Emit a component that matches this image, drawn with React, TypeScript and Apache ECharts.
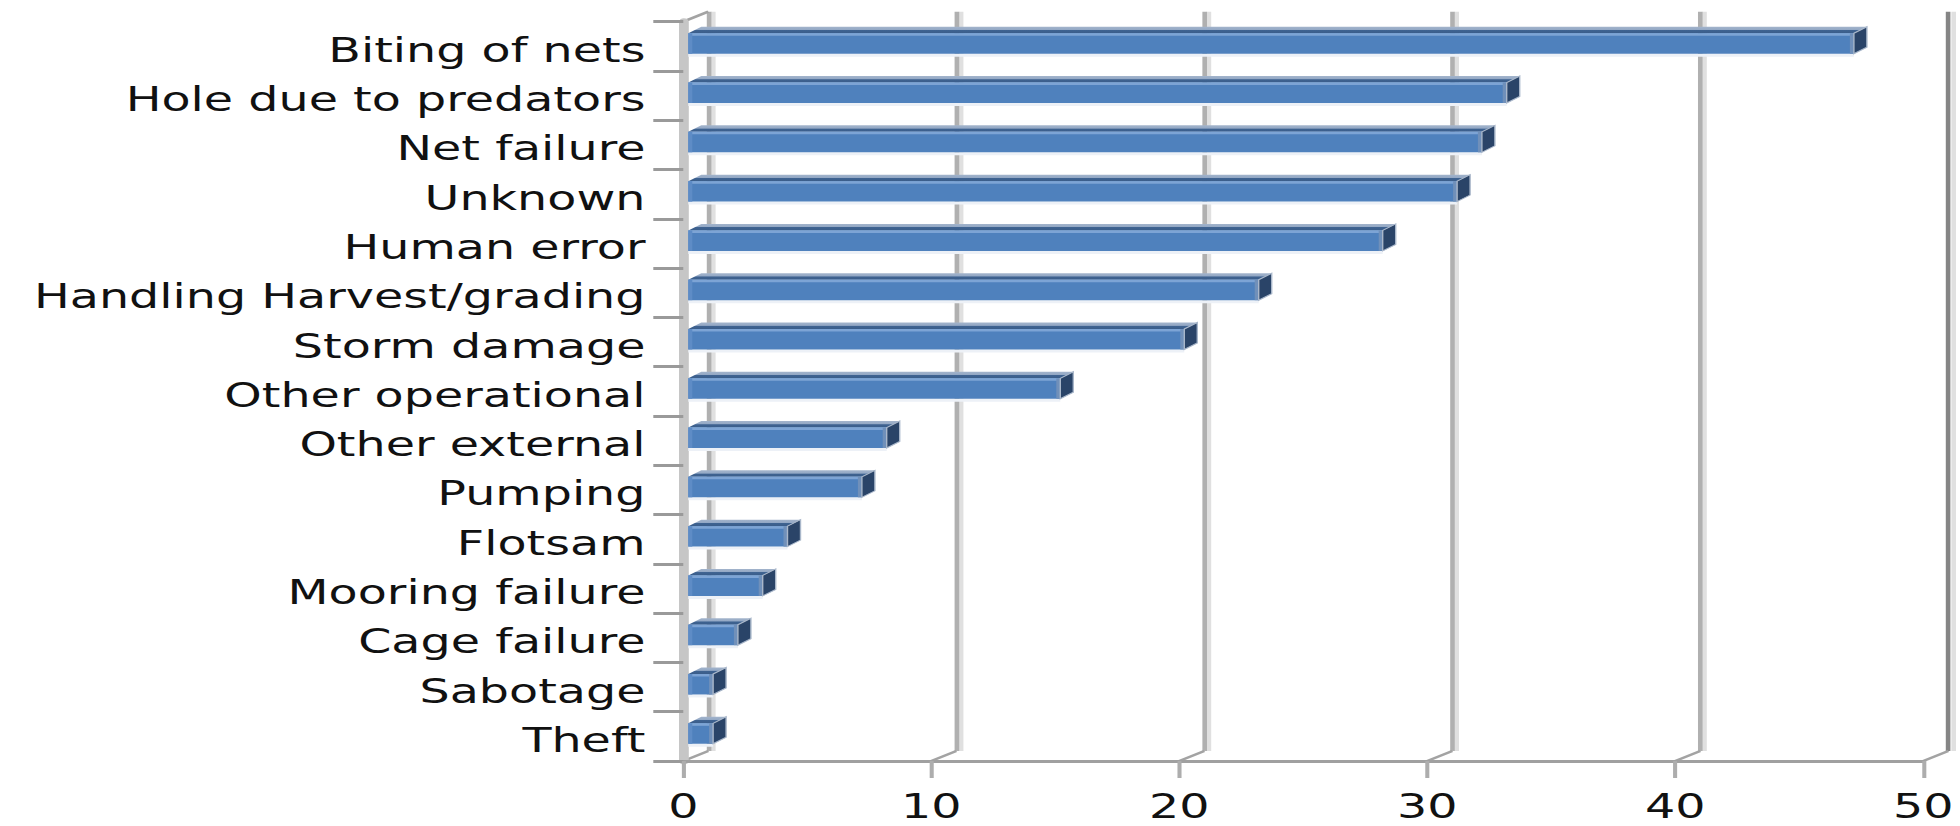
import React, { useEffect, useRef } from "react";
import * as echarts from "echarts";

const categories = [
  "Biting of nets",
  "Hole due to predators",
  "Net failure",
  "Unknown",
  "Human error",
  "Handling Harvest/grading",
  "Storm damage",
  "Other operational",
  "Other external",
  "Pumping",
  "Flotsam",
  "Mooring failure",
  "Cage failure",
  "Sabotage",
  "Theft",
];
const values = [47, 33, 32, 31, 28, 23, 20, 15, 8, 7, 4, 3, 2, 1, 1];
const xTicks = [0, 10, 20, 30, 40, 50];

// The reference picture is stretched horizontally; render narrower and stretch with CSS.
const S = 1.4;
const W = 1960 / S;
const H = 826;

const FRONT_LEFT = 683.3 / S;
const FRONT_W = (1923.3 - 683.3) / S;
const FRONT_TOP = 21.7;
const FRONT_H = 761 - 21.7;
const DEPTH_X = 25 / S;
const DEPTH_Y = 10;
const FONT = "DejaVu Sans";

export default function App() {
  const ref = useRef<HTMLDivElement>(null);

  useEffect(() => {
    if (!ref.current) return;
    const chart = echarts.init(ref.current, undefined, { renderer: "svg" });
    const last = categories[categories.length - 1];

    const backGridColors = xTicks.map((t, i) => (i === xTicks.length - 1 ? "#858585" : "#B0B0B0"));

    const option: any = {
      animation: false,
      backgroundColor: "#ffffff",
      grid: [
        { left: FRONT_LEFT, top: FRONT_TOP, width: FRONT_W, height: FRONT_H },
        { left: FRONT_LEFT + DEPTH_X, top: FRONT_TOP - DEPTH_Y, width: FRONT_W, height: FRONT_H },
        { left: FRONT_LEFT + DEPTH_X + 4.5 / S, top: FRONT_TOP - DEPTH_Y, width: FRONT_W, height: FRONT_H },
      ],
      xAxis: [
        {
          gridIndex: 0,
          type: "value",
          min: 0,
          max: 50,
          interval: 10,
          axisLine: { show: true, lineStyle: { color: "#A0A0A0", width: 3 } },
          axisTick: { show: true, length: 17, lineStyle: { color: "#ADADAD", width: 2.9 } },
          axisLabel: { fontSize: 34, fontFamily: FONT, color: "#111111", margin: 28 },
          splitLine: { show: false },
          z: 5,
        },
        {
          gridIndex: 1,
          type: "value",
          min: 0,
          max: 50,
          interval: 10,
          axisLine: { show: false },
          axisTick: { show: false },
          axisLabel: { show: false },
          splitLine: { show: true, lineStyle: { color: backGridColors, width: 3.3 } },
          z: 2,
        },
        {
          gridIndex: 2,
          type: "value",
          min: 0,
          max: 50,
          interval: 10,
          axisLine: { show: false },
          axisTick: { show: false },
          axisLabel: { show: false },
          splitLine: { show: true, lineStyle: { color: "#E0E0E0", width: 3.3 } },
          z: 1,
        },
      ],
      yAxis: [
        {
          gridIndex: 0,
          type: "category",
          data: categories,
          inverse: true,
          axisLine: { show: true, lineStyle: { color: "#C6C6C6", width: 7 } },
          axisTick: { show: true, length: 30 / S, lineStyle: { color: "#9A9A9A", width: 3 } },
          axisLabel: {
            fontSize: 34,
            fontFamily: FONT,
            color: "#111111",
            margin: 27,
            formatter: (v: string) => `{l|${v}}`,
            rich: {
              l: {
                fontSize: 34,
                fontFamily: FONT,
                color: "#111111",
                padding: [8, 0, 0, 0],
              },
            },
          },
          splitLine: { show: false },
          z: 5,
        },
        { gridIndex: 1, type: "value", show: false },
        { gridIndex: 2, type: "value", show: false },
      ],
      series: [
        {
          type: "custom",
          name: "frame",
          xAxisIndex: 0,
          yAxisIndex: 0,
          silent: true,
          z: 3,
          data: xTicks.map((t) => [t, last]),
          renderItem: (params: any, api: any) => {
            const p = api.coord([api.value(0), api.value(1)]);
            const h = api.size([0, 1])[1];
            const yb = p[1] + h / 2;
            const children: any[] = [
              {
                type: "line",
                shape: { x1: p[0], y1: yb, x2: p[0] + DEPTH_X, y2: yb - DEPTH_Y },
                style: { stroke: "#A3A3A3", lineWidth: 2.5 },
              },
            ];
            if (api.value(0) === 0) {
              const pt = api.coord([0, 0]);
              const yt = pt[1] - h / 2;
              children.push({
                type: "line",
                shape: { x1: p[0], y1: yt, x2: p[0] + DEPTH_X, y2: yt - DEPTH_Y },
                style: { stroke: "#A3A3A3", lineWidth: 2.5 },
              });
            }
            return { type: "group", children };
          },
        },
        {
          type: "custom",
          name: "bars",
          xAxisIndex: 0,
          yAxisIndex: 0,
          z: 10,
          data: categories.map((c, i) => [values[i], c]),
          renderItem: (params: any, api: any) => {
            const v = api.value(0);
            const idx = api.value(1);
            const pe = api.coord([v, idx]);
            const p0 = api.coord([0, idx]);
            const h = api.size([0, 1])[1];
            const off = 5 / S;
            const x0 = p0[0] + off;
            const x1 = pe[0] + off;
            const yc = pe[1];
            const yT = yc - 0.265 * h;
            const yB = yc + 0.15 * h;
            const dx = 13 / S;
            const dy = 6.5;
            const topGrad = new echarts.graphic.LinearGradient(0, 0, 0, 1, [
              { offset: 0, color: "#A3B4CB" },
              { offset: 0.45, color: "#93A8C5" },
              { offset: 0.55, color: "#3F6391" },
              { offset: 1, color: "#3A5D8A" },
            ]);
            return {
              type: "group",
              children: [
                {
                  type: "rect",
                  shape: { x: x0, y: yB, width: x1 - x0, height: 3 },
                  style: { fill: "#EDF1F7" },
                },
                {
                  type: "polygon",
                  shape: {
                    points: [
                      [x0, yT],
                      [x1, yT],
                      [x1 + dx, yT - dy],
                      [x0 + dx, yT - dy],
                    ],
                  },
                  style: { fill: topGrad },
                },
                {
                  type: "rect",
                  shape: { x: x0, y: yT, width: x1 - x0, height: yB - yT },
                  style: { fill: "#4F81BD" },
                },
                {
                  type: "rect",
                  shape: { x: x0, y: yT, width: x1 - x0, height: 2.5 },
                  style: { fill: "#7DA4D5" },
                },
                {
                  type: "rect",
                  shape: { x: x0, y: yT, width: 4 / S, height: yB - yT },
                  style: { fill: "#5E8CC6" },
                },
                {
                  type: "rect",
                  shape: { x: x1 - 4 / S, y: yT, width: 4 / S, height: yB - yT },
                  style: { fill: "#7090BA" },
                },
                {
                  type: "polygon",
                  shape: {
                    points: [
                      [x1, yT],
                      [x1 + dx, yT - dy],
                      [x1 + dx, yB - dy],
                      [x1, yB],
                    ],
                  },
                  style: { fill: "#2A4468", stroke: "#A9B7CA", lineWidth: 1 },
                },
              ],
            };
          },
        },
      ],
    };

    chart.setOption(option);
    return () => chart.dispose();
  }, []);

  return (
    <div
      ref={ref}
      style={{
        position: "fixed",
        left: 0,
        top: 0,
        width: W,
        height: H,
        transform: `scaleX(${S})`,
        transformOrigin: "0 0",
        background: "#ffffff",
      }}
    />
  );
}
